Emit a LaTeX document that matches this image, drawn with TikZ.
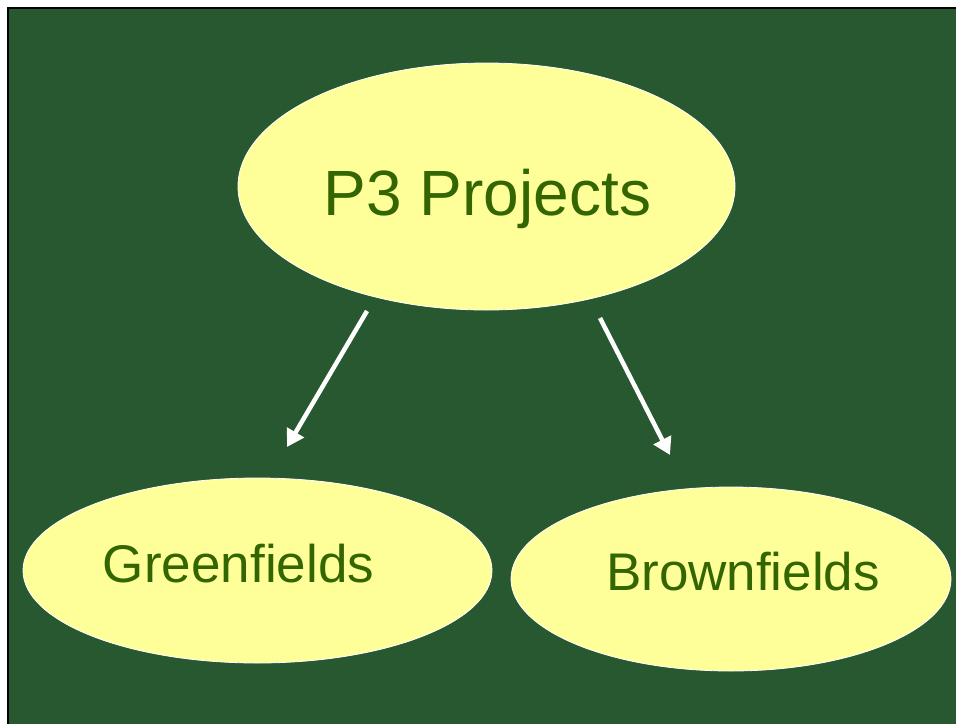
\documentclass[tikz,border=0pt]{standalone}
\usepackage{fontspec}
\setmainfont{Liberation Sans}
\usetikzlibrary{shapes.geometric,arrows.meta}
\definecolor{bggreen}{HTML}{28582F}
\definecolor{bubble}{HTML}{FFFF99}
\definecolor{txtgreen}{HTML}{336600}
\begin{document}
\begin{tikzpicture}[x=1pt,y=-1pt,
  bubblestyle/.style={ellipse,fill=bubble,draw=white,line width=0.8pt,inner sep=0pt},
  bigtext/.style={anchor=base,text=txtgreen,font=\fontsize{64}{70}\selectfont},
  smalltext/.style={anchor=base,text=txtgreen,font=\fontsize{53}{60}\selectfont},
  arrowstyle/.style={draw=white,line width=4.5pt,-{Triangle[length=17pt,width=19pt]}}]
\useasboundingbox (0,0) rectangle (956,724);
\fill[white] (0,0) rectangle (956,724);
\fill[bggreen] (8,8) rectangle (956,724);
\draw[black,line width=2.5pt] (8,724) -- (8,8) -- (956,8);
% ellipses
\node[bubblestyle,minimum width=497pt,minimum height=247pt] (proj) at (486.5,186.5) {};
\node[bubblestyle,minimum width=469pt,minimum height=185pt] (green) at (257.5,570.5) {};
\node[bubblestyle,minimum width=440pt,minimum height=184pt] (brown) at (731,579) {};
% texts
\node[bigtext] (projtext) at (487.5,215) {P3 Projects};
\node[smalltext] (greentext) at (238.5,582) {Greenfields};
\node[smalltext] (browntext) at (743,590) {Brownfields};
% arrows
\coordinate (a1s) at (367,311);
\coordinate (a1e) at (287,447);
\coordinate (a2s) at (600,318);
\coordinate (a2e) at (670,455);
\draw[arrowstyle] (a1s) -- (a1e);
\draw[arrowstyle] (a2s) -- (a2e);
\end{tikzpicture}
\end{document}
